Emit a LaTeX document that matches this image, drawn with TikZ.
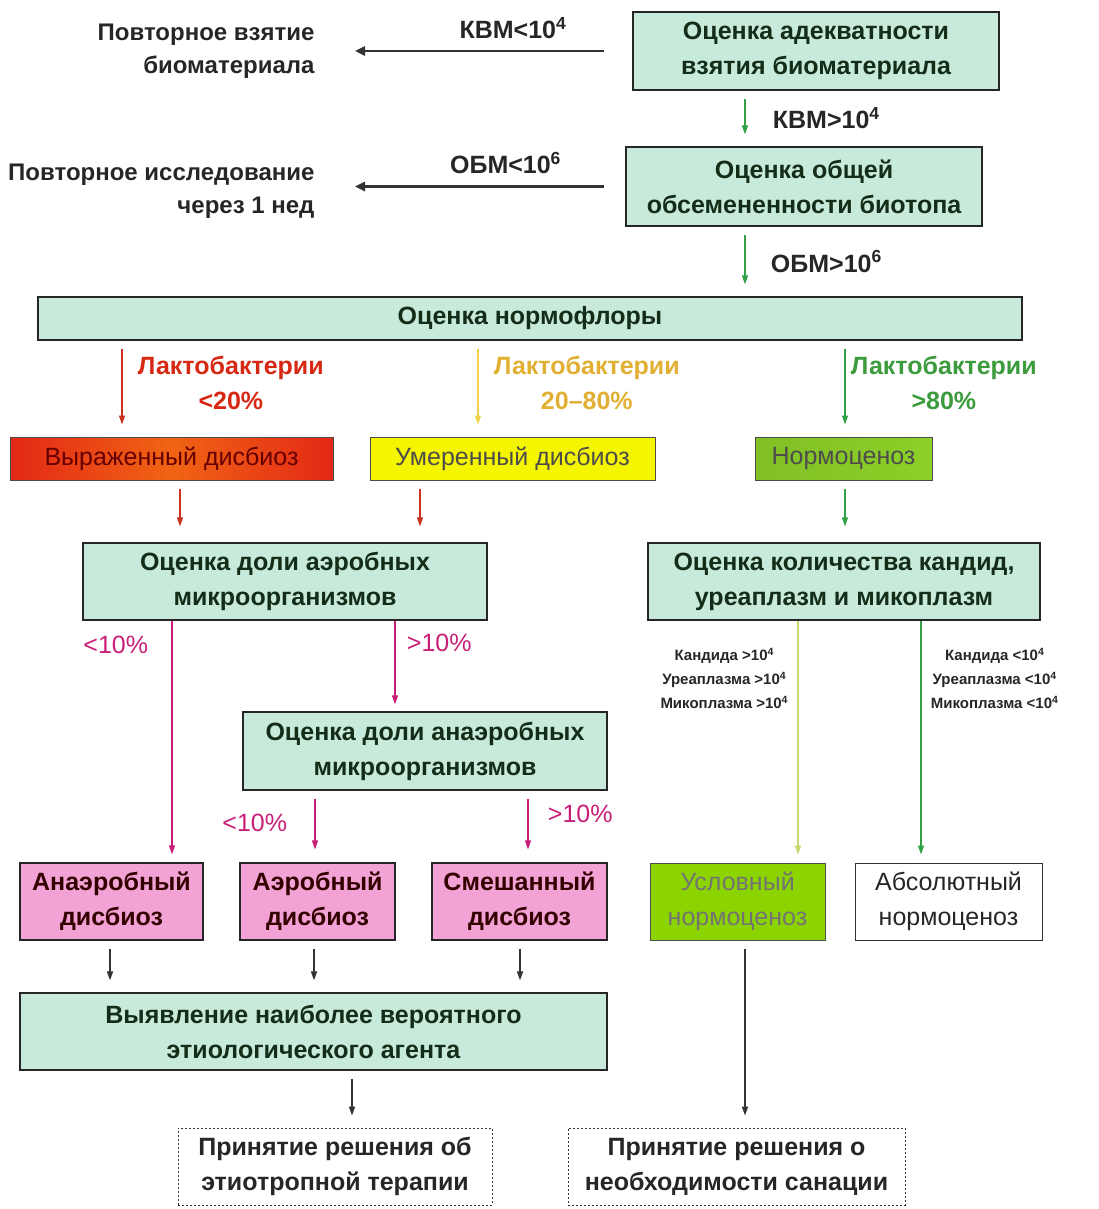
\documentclass[tikz,border=0pt]{standalone}
\usepackage{fontspec}
\setmainfont{Liberation Sans}
\usetikzlibrary{arrows.meta,calc}
\definecolor{mint}{RGB}{200,234,218}
\definecolor{boxtext}{RGB}{20,45,25}
\definecolor{pinkd}{RGB}{242,162,212}
\definecolor{magarr}{RGB}{200,30,120}
\definecolor{redarr}{RGB}{200,50,30}
\definecolor{yelarr}{RGB}{240,210,70}
\definecolor{grnarr}{RGB}{50,160,70}
\definecolor{lgrnarr}{RGB}{195,218,110}
\definecolor{redlab}{RGB}{215,40,20}
\definecolor{yellab}{RGB}{225,175,50}
\definecolor{grnlab}{RGB}{60,155,60}
\definecolor{vyrred}{RGB}{228,40,22}
\definecolor{vyrorange}{RGB}{240,100,20}
\definecolor{umeryel}{RGB}{245,245,0}
\definecolor{normgrn}{RGB}{140,208,40}
\definecolor{uslgrn}{RGB}{140,212,0}
\tikzset{
 stepbox/.style={draw=black!85,line width=1.2pt,fill=mint,text=boxtext,font=\fontsize{25}{35}\selectfont\bfseries,align=center,inner sep=0pt},
 dysbox/.style={stepbox,fill=pinkd,text=black!80!red},
 statebox/.style={draw=black!70,line width=1pt,font=\fontsize{25}{35}\selectfont,text=black!70,align=center,inner sep=0pt},
 decbox/.style={draw=black!80,dash pattern=on 2pt off 2pt,line width=0.8pt,font=\fontsize{25}{35}\selectfont\bfseries,text=black!85,align=center,inner sep=0pt},
 note/.style={font=\fontsize{24}{33}\selectfont\bfseries,text=black!85,align=right},
 cond/.style={font=\fontsize{25}{35}\selectfont\bfseries,text=black!85,align=center},
 pct/.style={font=\fontsize{25}{35}\selectfont,text=magarr},
 critlabel/.style={font=\fontsize{15}{24}\selectfont\bfseries,text=black!85,align=center},
 arr/.style={-{Triangle[length=9pt,width=6pt]},line width=1.2pt,shorten <=8pt,shorten >=12pt},
 backarr/.style={arr,black!80,line width=2.4pt,-{Triangle[length=10pt,width=9pt]}}
}

\begin{document}
\begin{tikzpicture}[x=1pt,y=-1pt]
\useasboundingbox (0,0) rectangle (1099,1209);
% columns of the arrows
\coordinate (xa) at (745,0);
\coordinate (xr) at (122,0);
\coordinate (xy) at (478,0);
\coordinate (xg) at (845,0);
\coordinate (xr2) at (180,0);
\coordinate (xy2) at (420,0);
\coordinate (xm1) at (172,0);
\coordinate (xm2) at (395,0);
\coordinate (xm3) at (315,0);
\coordinate (xm4) at (528,0);
\coordinate (xk1) at (798,0);
\coordinate (xk2) at (921,0);
\coordinate (xb1) at (110,0);
\coordinate (xb2) at (314,0);
\coordinate (xb3) at (520,0);
\coordinate (xb4) at (352,0);

% steps
\node[stepbox,minimum width=366,minimum height=78] (adeq) at (816,51) {Оценка адекватности\\взятия биоматериала};
\node[stepbox,minimum width=356,minimum height=79] (obsem) at (804,186.5) {Оценка общей\\обсемененности биотопа};
\node[stepbox,minimum width=984,minimum height=43] (normo) at (530,318.5) {Оценка нормофлоры};
\node[note,anchor=east] (rep1) at (318,51) {Повторное взятие\\биоматериала};
\node[note,anchor=east] (rep2) at (318,191) {Повторное исследование\\через 1 нед};

\node[statebox,minimum width=323,minimum height=43,left color=vyrred,right color=vyrred,middle color=vyrorange,text=black!60!red] (vyr) at (171.5,458.5) {Выраженный дисбиоз};
\node[statebox,minimum width=285,minimum height=43,fill=umeryel,text=black!70] (umer) at (512.5,458.5) {Умеренный дисбиоз};
\node[statebox,minimum width=177,minimum height=43,left color=normgrn!92!black,right color=normgrn,text=black!70] (normc) at (843.5,458.5) {Нормоценоз};

\node[stepbox,minimum width=404,minimum height=77] (aer) at (285,581.5) {Оценка доли аэробных\\микроорганизмов};
\node[stepbox,minimum width=392,minimum height=77] (kand) at (844,581.5) {Оценка количества кандид,\\уреаплазм и микоплазм};
\node[stepbox,minimum width=364,minimum height=78] (anaer) at (425,751) {Оценка доли анаэробных\\микроорганизмов};

\node[dysbox,minimum width=183,minimum height=77] (anaerd) at (111.5,901.5) {Анаэробный\\дисбиоз};
\node[dysbox,minimum width=155,minimum height=77] (aerd) at (317.5,901.5) {Аэробный\\дисбиоз};
\node[dysbox,minimum width=175,minimum height=77] (mixd) at (519.5,901.5) {Смешанный\\дисбиоз};
\node[statebox,minimum width=175,minimum height=77,fill=uslgrn,text=black!55] (uslov) at (737.5,901.5) {Условный\\нормоценоз};
\node[statebox,minimum width=187,minimum height=77,fill=white,text=black!85,draw=black!80] (absol) at (948.5,901.5) {Абсолютный\\нормоценоз};

\node[stepbox,minimum width=587,minimum height=77] (vyyav) at (313.5,1031.5) {Выявление наиболее вероятного\\этиологического агента};
\node[decbox,minimum width=314,minimum height=77] (ther) at (335,1166.5) {Принятие решения об\\этиотропной терапии};
\node[decbox,minimum width=337,minimum height=77] (sanac) at (736.5,1166.5) {Принятие решения о\\необходимости санации};

% top part
\draw[backarr,shorten <=28pt,shorten >=37pt] (adeq.west) -- (adeq.west -| rep1.east)
  node[cond,pos=.38,above=8pt] {КВМ<10\textsuperscript{4}};
\draw[backarr,shorten <=21pt,shorten >=37pt] (obsem.west) -- (obsem.west -| rep2.east)
  node[cond,pos=.39,above=8pt] {ОБМ<10\textsuperscript{6}};
\draw[arr,grnarr] (adeq.south -| xa) -- (obsem.north -| xa)
  node[cond,midway,right=24pt] {КВМ>10\textsuperscript{4}};
\draw[arr,grnarr] (obsem.south -| xa) -- (normo.north -| xa)
  node[cond,midway,right=22pt] {ОБМ>10\textsuperscript{6}};

% lactobacilli
\draw[arr,redarr] (normo.south -| xr) -- (vyr.north -| xr)
  node[cond,midway,right=12pt,yshift=6pt,text=redlab] {Лактобактерии\\<20\%};
\draw[arr,yelarr] (normo.south -| xy) -- (umer.north -| xy)
  node[cond,midway,right=12pt,yshift=6pt,text=yellab] {Лактобактерии\\20--80\%};
\draw[arr,grnarr] (normo.south -| xg) -- (normc.north -| xg)
  node[cond,midway,right=2pt,yshift=6pt,text=grnlab] {Лактобактерии\\>80\%};

\draw[arr,redarr,shorten >=16pt] (vyr.south -| xr2) -- (aer.north -| xr2);
\draw[arr,redarr,shorten >=16pt] (umer.south -| xy2) -- (aer.north -| xy2);
\draw[arr,grnarr,shorten >=16pt] (normc.south -| xg) -- (kand.north -| xg);

% aerobes / anaerobes
\draw[arr,magarr,shorten <=0pt,shorten >=8pt] (aer.south -| xm1) -- (anaerd.north -| xm1)
  node[pct,pos=.1,left=20pt] {<10\%};
\draw[arr,magarr,shorten <=0pt,shorten >=7pt] (aer.south -| xm2) -- (anaer.north -| xm2)
  node[pct,pos=.25,right=8pt] {>10\%};
\draw[arr,magarr,shorten >=13pt] (anaer.south -| xm3) -- (aerd.north -| xm3)
  node[pct,pos=.45,left=24pt] {<10\%};
\draw[arr,magarr,shorten >=13pt] (anaer.south -| xm4) -- (mixd.north -| xm4)
  node[pct,pos=.32,right=16pt] {>10\%};

% candida etc.
\draw[arr,lgrnarr,shorten <=0pt,shorten >=8pt] (kand.south -| xk1) -- (uslov.north -| xk1)
  node[critlabel,pos=.24,left=6pt] {Кандида >10\textsuperscript{4}\\Уреаплазма >10\textsuperscript{4}\\Микоплазма >10\textsuperscript{4}};
\draw[arr,grnarr,shorten <=0pt,shorten >=8pt] (kand.south -| xk2) -- (absol.north -| xk2)
  node[critlabel,pos=.24,right=6pt] {Кандида <10\textsuperscript{4}\\Уреаплазма <10\textsuperscript{4}\\Микоплазма <10\textsuperscript{4}};

% to decisions
\draw[arr,black!80,line width=1.6pt] (anaerd.south -| xb1) -- (vyyav.north -| xb1);
\draw[arr,black!80,line width=1.6pt] (aerd.south -| xb2) -- (vyyav.north -| xb2);
\draw[arr,black!80,line width=1.6pt] (mixd.south -| xb3) -- (vyyav.north -| xb3);
\draw[arr,black!80,line width=1.6pt] (vyyav.south -| xb4) -- (ther.north -| xb4);
\draw[arr,black!80,line width=1.6pt] (uslov.south -| xa) -- (sanac.north -| xa);
\end{tikzpicture}
\end{document}
